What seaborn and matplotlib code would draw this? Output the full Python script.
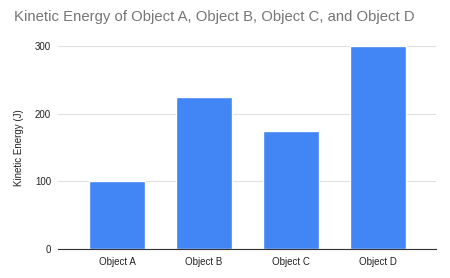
import matplotlib
matplotlib.use("Agg")
import matplotlib.pyplot as plt
import seaborn as sns
import pandas as pd

categories = ["Object A", "Object B", "Object C", "Object D"]
energy = [100, 225, 175, 300]
yticks = [0, 100, 200, 300]

sns.set_style("white")
plt.rcParams['font.family'] = ['Liberation Sans', 'DejaVu Sans']

df = pd.DataFrame({"obj": categories, "ke": energy})
fig = plt.figure(figsize=(4.5, 2.78), dpi=100)
ax = fig.add_axes([58/450, 29/278, 378/450, 203/278])
sns.barplot(data=df, x="obj", y="ke", color="#4285F4", saturation=1, width=0.64, ax=ax)
ax.set_xlim(-0.678, 3.667)
ax.set_ylim(0, 300)
ax.set_yticks(yticks)
ax.set_yticklabels([str(v) for v in yticks])
ax.grid(axis="y", color="#e0e0e0", linewidth=0.8)
ax.set_axisbelow(True)
for s in ["top", "right", "left"]:
    ax.spines[s].set_visible(False)
ax.spines["bottom"].set_color("#333333")
ax.spines["bottom"].set_linewidth(0.8)
ax.tick_params(axis="y", length=0, labelsize=7, colors="#222222", pad=5)
ax.tick_params(axis="x", length=0, labelsize=7, colors="#222222", pad=6)
ax.set_xlabel("")
ax.set_ylabel("Kinetic Energy (J)", fontsize=7, color="#222222", labelpad=8)
fig.text(14/450, 1 - 17/278, "Kinetic Energy of Object A, Object B, Object C, and Object D",
         fontsize=10.75, color="#757575", va="center", ha="left")
fig.savefig("out.png", dpi=100)
